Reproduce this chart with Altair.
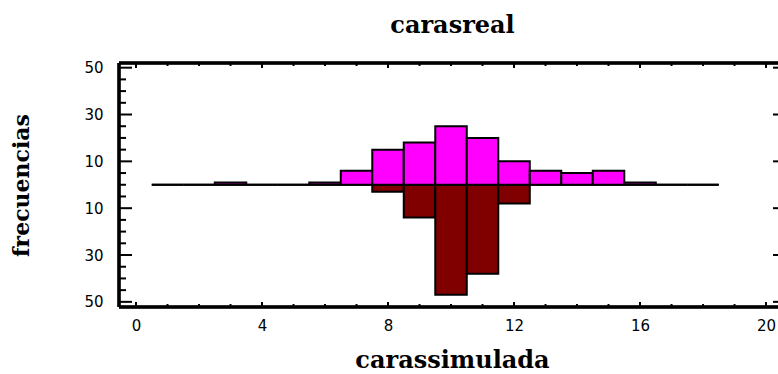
import altair as alt
import pandas as pd

# Bin centres (unit-wide bins from 0.5 to 18.5) and counts per series
bin_centres = list(range(1, 19))
simulada_counts = [0, 0, 1, 0, 0, 1, 6, 15, 18, 25, 20, 10, 6, 5, 6, 1, 0, 0]
real_counts = [0, 0, 0, 0, 0, 0, 0, 3, 14, 47, 38, 8, 0, 0, 0, 0, 0, 0]

# Axis tick values
x_label_ticks = [0, 4, 8, 12, 16, 20]
x_minor_ticks = list(range(0, 21))
y_label_ticks = [-50, -30, -10, 10, 30, 50]
y_minor_ticks = list(range(-50, 51, 5))

W, H = 659, 244
X_DOMAIN = [-0.54, 20.38]
Y_DOMAIN = [-52.2, 52.0]

xs = alt.Scale(domain=X_DOMAIN, nice=False, zero=False)
ys = alt.Scale(domain=Y_DOMAIN, nice=False, zero=False)

upper = pd.DataFrame({
    "lo": [c - 0.5 for c in bin_centres],
    "hi": [c + 0.5 for c in bin_centres],
    "base": 0,
    "val": simulada_counts,
})
lower = pd.DataFrame({
    "lo": [c - 0.5 for c in bin_centres],
    "hi": [c + 0.5 for c in bin_centres],
    "base": 0,
    "val": [-v for v in real_counts],
})

x_axis = alt.Axis(
    values=x_label_ticks, tickSize=0, domain=False, grid=False,
    labelFont="DejaVu Sans", labelFontSize=15, labelColor="black",
    labelPadding=11, labelFlush=False, labelOverlap=False,
    title="carassimulada", titleFont="DejaVu Serif", titleFontSize=24,
    titleFontWeight="bold", titleColor="black", titleBaseline="alphabetic",
    titleAlign="center", titleX=333, titleY=60,
)
y_axis = alt.Axis(
    values=y_label_ticks, labelExpr="abs(datum.value)", tickSize=0,
    domain=False, grid=False,
    labelFont="DejaVu Sans", labelFontSize=15, labelColor="black",
    labelPadding=16, labelOverlap=False, labelFlush=False,
    title="frecuencias", titleFont="DejaVu Serif", titleFontSize=22,
    titleFontWeight="bold", titleColor="black", titleBaseline="alphabetic",
    titleAlign="center", titleAngle=270, titleX=-91, titleY=122,
)


def xenc(field):
    return alt.X(field, scale=xs, axis=x_axis)


def yenc(field):
    return alt.Y(field, scale=ys, axis=y_axis)


real_bars = alt.Chart(lower).mark_rect(
    fill="#800000", stroke="black", strokeWidth=2
).encode(x=xenc("lo:Q"), x2="hi:Q", y=yenc("val:Q"), y2="base:Q")

sim_bars = alt.Chart(upper).mark_rect(
    fill="#FF00FF", stroke="black", strokeWidth=2
).encode(x=xenc("lo:Q"), x2="hi:Q", y=yenc("val:Q"), y2="base:Q")

# Inward-pointing tick marks on the frame
y_major_df = pd.DataFrame({"val": y_label_ticks})
y_minor_df = pd.DataFrame({"val": [v for v in y_minor_ticks if v not in y_label_ticks]})
x_major_df = pd.DataFrame({"lo": x_label_ticks})
x_minor_df = pd.DataFrame({"lo": [v for v in x_minor_ticks if v not in x_label_ticks]})


def y_ticks(df, x0, x1, width=2):
    return alt.Chart(df).mark_rule(color="black", strokeWidth=width).encode(
        y=yenc("val:Q"), x=alt.value(x0), x2=alt.value(x1),
    )


def x_ticks(df, y0, y1, width=2):
    return alt.Chart(df).mark_rule(color="black", strokeWidth=width).encode(
        x=xenc("lo:Q"), y=alt.value(y0), y2=alt.value(y1),
    )


ticks = [
    y_ticks(y_major_df, 0, 13),
    y_ticks(y_minor_df, 0, 7),
    y_ticks(y_major_df, W - 5, W),
    x_ticks(x_major_df, H, H - 5),
    x_ticks(x_minor_df, H, H - 3),
    x_ticks(x_major_df, 0, 5),
    x_ticks(x_minor_df, 0, 3),
]

# Frame: top, bottom and left edges
frame_top = alt.Chart(y_major_df).mark_rule(color="black", strokeWidth=2.5).encode(
    x=alt.value(0), x2=alt.value(W), y=alt.value(0)
)
frame_bottom = alt.Chart(y_major_df).mark_rule(color="black", strokeWidth=2.5).encode(
    x=alt.value(0), x2=alt.value(W), y=alt.value(H)
)
frame_left = alt.Chart(y_major_df).mark_rule(color="black", strokeWidth=2.5).encode(
    x=alt.value(0), y=alt.value(0), y2=alt.value(H)
)

chart = alt.layer(
    real_bars, sim_bars, *ticks, frame_top, frame_bottom, frame_left
).properties(
    width=W, height=H,
    title=alt.TitleParams(
        text="carasreal", font="DejaVu Serif", fontSize=24, fontWeight="bold",
        color="black", anchor="middle", baseline="alphabetic", offset=4, dx=4,
    ),
    autosize=alt.AutoSizeParams(type="none"),
    padding={"left": 119, "top": 63, "right": 0, "bottom": 67},
    background="white",
).configure_view(stroke=None)

chart.save("out.html", embed_options={"renderer": "svg", "actions": False})
